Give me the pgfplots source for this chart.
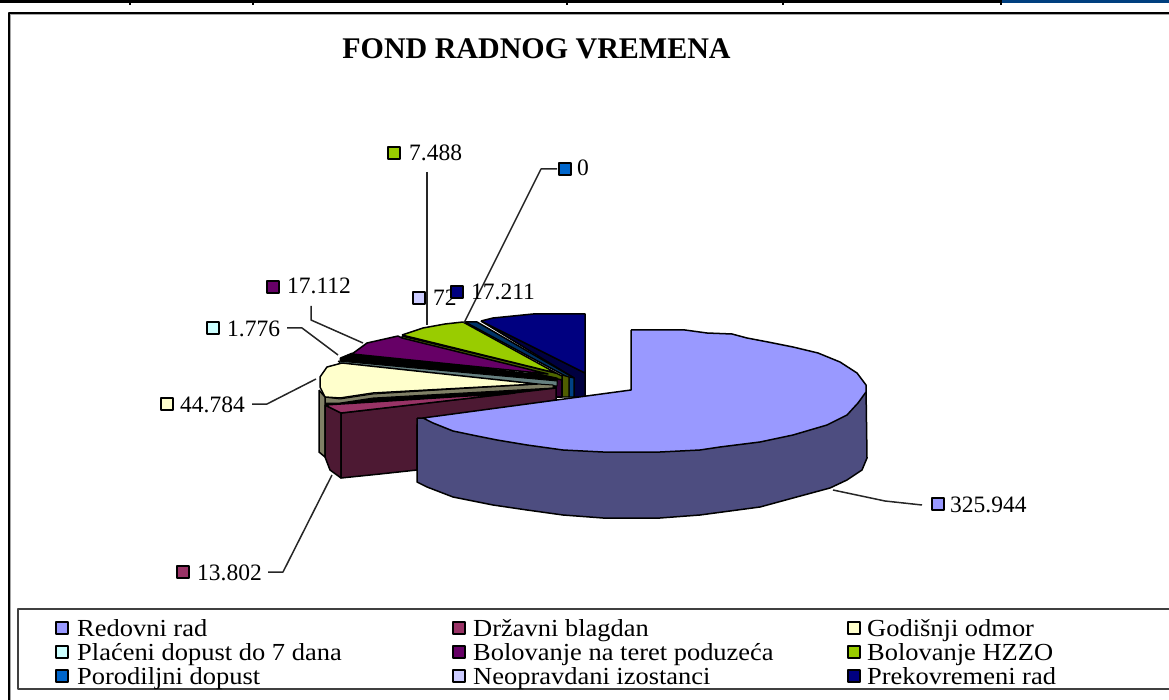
\documentclass[border=0pt]{standalone}
\usepackage{pgfplots}
\pgfplotsset{compat=1.18}
\usepackage{fontspec}
\setmainfont{Liberation Serif}
\newfontfamily\legf[FakeStretch=1.08]{Liberation Serif}
\definecolor{mA}{HTML}{9999FF}\definecolor{sA}{HTML}{4D4D80}
\definecolor{mB}{HTML}{993366}\definecolor{sB}{HTML}{4D1933}
\definecolor{mC}{HTML}{FFFFCC}\definecolor{sC}{HTML}{808066}
\definecolor{mD}{HTML}{CCFFFF}\definecolor{sD}{HTML}{668080}
\definecolor{mE}{HTML}{660066}\definecolor{sE}{HTML}{330033}
\definecolor{mF}{HTML}{99CC00}\definecolor{sF}{HTML}{4D6600}
\definecolor{mG}{HTML}{0066CC}\definecolor{sG}{HTML}{003366}
\definecolor{mH}{HTML}{CCCCFF}
\definecolor{mI}{HTML}{000080}\definecolor{sI}{HTML}{000040}
\definecolor{topblue}{HTML}{003F7F}
\newcommand{\lab}{\fontsize{23.5}{24}\selectfont}
\newcommand{\leg}{\legf\fontsize{24.5}{25}\selectfont}
\begin{document}
\begin{tikzpicture}
\begin{axis}[
  scale only axis, width=1169pt, height=700pt,
  xmin=0, xmax=1169, ymin=0, ymax=700, y dir=reverse,
  axis lines=none, clip=true,
  every axis plot/.append style={line join=round, mark=none},
]
% page furniture
\addplot[black, line width=3pt] coordinates {(0,1.5) (1000,1.5)};
\addplot[topblue, line width=3pt] coordinates {(1001,1.5) (1169,1.5)};
\addplot[black, line width=1.5pt] coordinates {(130,0) (130,5)};
\addplot[black, line width=1.5pt] coordinates {(253,0) (253,5)};
\addplot[black, line width=1.5pt] coordinates {(567,0) (567,5)};
\addplot[black, line width=1.5pt] coordinates {(783,0) (783,5)};
\addplot[black, line width=1.5pt] coordinates {(1001,0) (1001,5)};
\addplot[black!35, line width=1pt] coordinates {(10,700) (10,15) (1169,15)};
\addplot[black, line width=2pt] coordinates {(8.5,700) (8.5,13.5) (1169,13.5)};
\addplot[black!75, line width=2.2pt] coordinates {(1169,609) (18,609) (18,689) (1169,689)};
% navy slice
\addplot[fill=sI, draw=black, line width=1.5pt] coordinates {(481,321) (585,373) (585,397) (574,397) (574,378) (481,321)};
\addplot[fill=mI, draw=black, line width=1.5pt] coordinates {(481,321) (493,318) (533,314) (585,314) (585,373) (481,321)};
% thin slices at the back
\addplot[fill=sG, draw=black, line width=1.5pt] coordinates {(465,322) (477,322) (574,378) (569,378) (465,322)};
\addplot[fill=sG!70!mG, draw=black, line width=1.2pt] coordinates {(569,377) (574,378) (574,397) (569,397) (569,377)};
\addplot[fill=sF!80!yellow!70!black, draw=black, line width=1.2pt] coordinates {(562,375) (569,377) (569,397) (562,397) (562,375)};
\addplot[fill=sE, draw=black, line width=1.2pt] coordinates {(556,376) (562,376) (562,397) (556,397) (556,376)};
% green slice
\addplot[fill=sF, draw=black, line width=1.5pt] coordinates {(402,336) (556,373) (562,376) (562,380) (402,342) (402,336)};
\addplot[fill=mF, draw=black, line width=1.5pt] coordinates {(402,335) (423,328) (445,324) (463,322) (556,373) (402,335)};
% purple slice
\addplot[fill=black, draw=black, line width=1pt] coordinates {(340,358) (352,353) (543,375) (557,378) (557,383) (340,361) (340,358)};
\addplot[fill=mE, draw=black, line width=1.5pt] coordinates {(352,354) (367,343) (398,336) (402,338) (548,374) (352,354)};
% light cyan slice
\addplot[fill=sD, draw=black, line width=1pt] coordinates {(338,361) (557,381) (557,386) (342,365) (338,361)};
% yellow slice
\addplot[fill=black, draw=black, line width=1pt] coordinates {(325,400) (555,386) (555,392) (327,405) (325,400)};
\addplot[fill=sC, draw=black, line width=1pt] coordinates {(325,397) (340,399) (373,394) (537,384) (553,385) (553,388) (373,398) (340,403) (325,403) (325,397)};
\addplot[fill=mC, draw=black, line width=1.5pt] coordinates {(342,363) (327,367) (320,377) (320,387) (325,397) (340,398) (373,393) (537,384) (342,363)};
\addplot[fill=sC, draw=black, line width=1.5pt] coordinates {(319,390) (325,397) (325,457) (319,452) (319,390)};
% maroon slice
\addplot[fill=sB, draw=black, line width=1.5pt] coordinates {(325,405) (341,413) (341,478) (330,470) (325,457) (325,405)};
\addplot[fill=sB, draw=black, line width=1.5pt] coordinates {(341,413) (556,388) (556,400) (417,425) (417,470) (380,474) (341,478) (341,413)};
\addplot[fill=mB, draw=black, line width=1.5pt] coordinates {(325,405) (341,413) (515,393) (325,405)};
% main slice
\addplot[fill=sA, draw=black, line width=1.5pt] coordinates {(417,418) (423,418) (866,388) (867,458) (862,470) (847,480) (830,488) (793,498) (760,507) (730,511) (700,515) (660,518) (603,518) (563,515) (527,510) (493,505) (453,497) (427,487) (417,482) (417,418)};
\addplot[fill=mA, draw=black, line width=1.5pt] coordinates {(631,330) (685,330) (707,333) (732,334) (747,338) (768,342) (793,347) (818,353) (840,362) (857,373) (866,385) (866,392) (858,403) (847,415) (827,425) (793,435) (760,442) (720,447) (700,450) (660,452) (603,452) (563,450) (527,445) (497,440) (477,436) (453,431) (433,423) (423,418) (631,390) (631,330)};
% leader lines
\addplot[black!85, line width=1.5pt] coordinates {(833,490) (885,501) (922,505)};
\addplot[black!85, line width=1.5pt] coordinates {(332,475) (283,572) (268,572)};
\addplot[black!85, line width=1.5pt] coordinates {(252,404) (267,404) (316,379)};
\addplot[black!85, line width=1.5pt] coordinates {(287,328) (302,328) (338,355)};
\addplot[black!85, line width=1.5pt] coordinates {(311,306) (311,320) (363,343)};
\addplot[black!85, line width=1.5pt] coordinates {(427,172) (427,325)};
\addplot[black!85, line width=1.5pt] coordinates {(557,169) (541,169) (464,323)};
% label and legend keys
\addplot[only marks, mark=square*, mark size=6pt, mark options={fill=mA, draw=black, line width=1.3pt}] coordinates {(938,504) (62,628)};
\addplot[only marks, mark=square*, mark size=6pt, mark options={fill=mB, draw=black, line width=1.3pt}] coordinates {(183,572) (459,628)};
\addplot[only marks, mark=square*, mark size=6pt, mark options={fill=mC, draw=black, line width=1.3pt}] coordinates {(167,404) (854,628)};
\addplot[only marks, mark=square*, mark size=6pt, mark options={fill=mD, draw=black, line width=1.3pt}] coordinates {(213,328) (62,652)};
\addplot[only marks, mark=square*, mark size=6pt, mark options={fill=mE, draw=black, line width=1.3pt}] coordinates {(273,287) (459,652)};
\addplot[only marks, mark=square*, mark size=6pt, mark options={fill=mF, draw=black, line width=1.3pt}] coordinates {(394,153) (854,652)};
\addplot[only marks, mark=square*, mark size=6pt, mark options={fill=mG, draw=black, line width=1.3pt}] coordinates {(565,169) (62,676)};
\addplot[only marks, mark=square*, mark size=6pt, mark options={fill=mH, draw=black, line width=1.3pt}] coordinates {(419,298) (459,676)};
\addplot[only marks, mark=square*, mark size=6pt, mark options={fill=mI, draw=black, line width=1.3pt}] coordinates {(457,292) (854,676)};
% value labels
\tikzset{v/.style={anchor=base west, inner sep=0pt, black}}
\node[v] at (axis cs:950,512) {\lab 325.944};
\node[v] at (axis cs:197,580) {\lab 13.802};
\node[v] at (axis cs:180,412) {\lab 44.784};
\node[v] at (axis cs:227,336) {\lab 1.776};
\node[v] at (axis cs:287,294) {\lab 17.112};
\node[v] at (axis cs:409,161) {\lab 7.488};
\node[v] at (axis cs:577,176) {\lab 0};
\node[v] at (axis cs:433,306) {\lab 72};
\node[v] at (axis cs:471,300) {\lab 17.211};
% legend text
\node[v] at (axis cs:77,636) {\leg Redovni rad};
\node[v] at (axis cs:473,636) {\leg Državni blagdan};
\node[v] at (axis cs:867,636) {\leg Godišnji odmor};
\node[v] at (axis cs:77,660) {\leg Plaćeni dopust do 7 dana};
\node[v] at (axis cs:473,660) {\leg Bolovanje na teret poduzeća};
\node[v] at (axis cs:867,660) {\leg Bolovanje HZZO};
\node[v] at (axis cs:77,684) {\leg Porodiljni dopust};
\node[v] at (axis cs:473,684) {\leg Neopravdani izostanci};
\node[v] at (axis cs:867,684) {\leg Prekovremeni rad};
% title
\node[anchor=base, inner sep=0pt, black] at (axis cs:536.5,59) {\fontsize{30}{30}\selectfont\bfseries FOND RADNOG VREMENA};
\end{axis}
\end{tikzpicture}
\end{document}
